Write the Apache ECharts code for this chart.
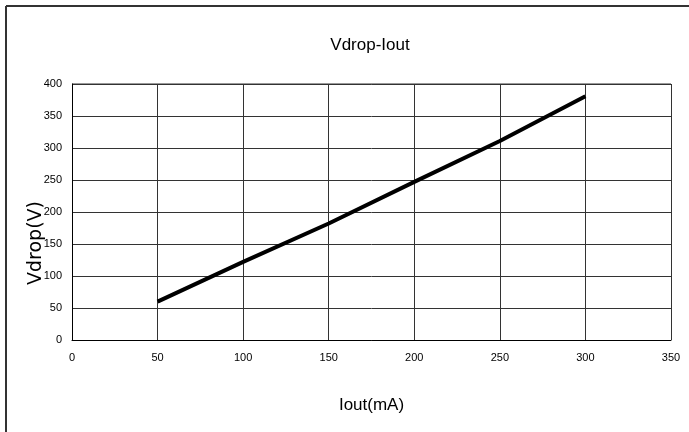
<!DOCTYPE html>
<html>
<head>
<meta charset="utf-8">
<script src="https://cdn.jsdelivr.net/npm/echarts@6/dist/echarts.min.js"></script>
<style>
    html, body {
        margin: 0;
        padding: 0;
        background: #fff;
    }
    #chart {
        width: 689px;
        height: 432px;
    }
</style>
</head>
<body>
<div id="chart"></div>
<script>
// data
var iout = [50, 100, 150, 200, 250, 300];
var vdrop = [60, 122, 182, 247, 311, 381];
var xTicks = [0, 350, 50];   // min, max, step
var yTicks = [0, 400, 50];

var chartInstance = echarts.init(document.getElementById('chart'));

var labelFont = '"Liberation Sans Narrow", "Liberation Sans", Arial, sans-serif';

var option = {
    backgroundColor: '#fff',
    animation: false,
    title: {
        text: 'Vdrop-Iout',
        left: 365,
        top: 32,
        textAlign: 'center',
        textStyle: {
            fontFamily: labelFont,
            fontWeight: 'normal',
            fontSize: 17,
            color: '#000'
        }
    },
    grid: {
        left: 72,
        right: 18,
        top: 84,
        bottom: 92
    },
    xAxis: {
        type: 'value',
        min: xTicks[0],
        max: xTicks[1],
        interval: xTicks[2],
        name: 'Iout(mA)',
        nameLocation: 'middle',
        nameGap: 57,
        nameTextStyle: {
            fontFamily: labelFont,
            fontSize: 17,
            color: '#000'
        },
        axisLine: {lineStyle: {color: '#000', width: 1}},
        axisTick: {show: false},
        axisLabel: {
            margin: 12,
            fontFamily: labelFont,
            fontSize: 11,
            color: '#000'
        },
        splitLine: {lineStyle: {color: '#333', width: 1}}
    },
    yAxis: {
        type: 'value',
        min: yTicks[0],
        max: yTicks[1],
        interval: yTicks[2],
        axisLine: {show: true, lineStyle: {color: '#000', width: 1}},
        axisTick: {show: false},
        axisLabel: {
            margin: 10,
            fontFamily: labelFont,
            fontSize: 11,
            color: '#000'
        },
        splitLine: {lineStyle: {color: '#333', width: 1}}
    },
    graphic: [{
        type: 'line',
        shape: {x1: 6, y1: 6, x2: 689, y2: 6},
        style: {stroke: '#333', lineWidth: 2}
    }, {
        type: 'line',
        shape: {x1: 6, y1: 6, x2: 6, y2: 432},
        style: {stroke: '#333', lineWidth: 2}
    }, {
        type: 'line',
        shape: {x1: 72, y1: 84, x2: 671, y2: 84},
        style: {stroke: '#999', lineWidth: 2}
    }, {
        // y axis title, sits a bit below the plot centre like the original
        type: 'text',
        x: 36,
        y: 243,
        rotation: Math.PI / 2,
        style: {
            text: 'Vdrop(V)',
            fontFamily: '"DejaVu Sans", sans-serif',
            fontSize: 19,
            fill: '#000',
            align: 'center',
            verticalAlign: 'middle'
        }
    }],
    series: [{
        type: 'line',
        data: iout.map(function (x, i) { return [x, vdrop[i]]; }),
        showSymbol: false,
        lineStyle: {color: '#000', width: 4}
    }]
};

chartInstance.setOption(option);
</script>
</body>
</html>
